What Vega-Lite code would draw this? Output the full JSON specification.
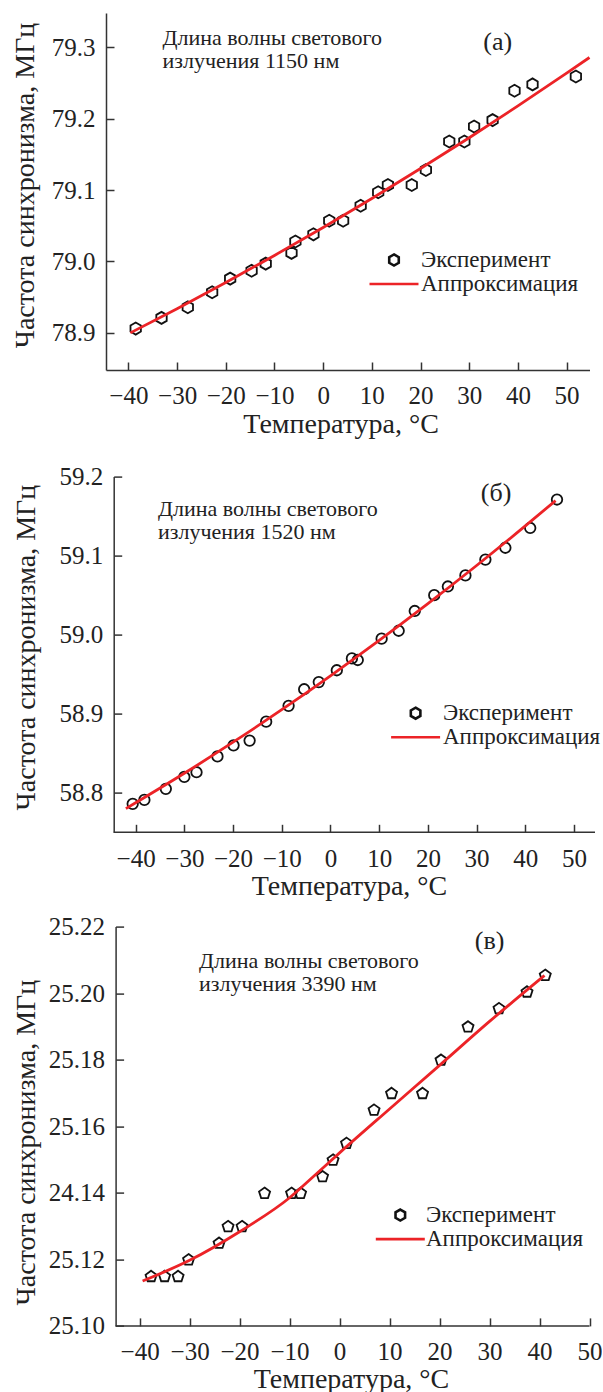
{
  "$schema": "https://vega.github.io/schema/vega-lite/v6.json",
  "padding": {"left": 10, "top": 13, "right": 0, "bottom": 0},
  "background": "white",
  "config": {
    "font": "Liberation Serif, Times New Roman, Times, DejaVu Serif, serif",
    "view": {"stroke": null},
    "axis": {
      "grid": false,
      "domainColor": "#333",
      "domainWidth": 1.5,
      "tickColor": "#333",
      "tickWidth": 1.5,
      "tickSize": -8,
      "labelFont": "Liberation Serif, Times New Roman, Times, DejaVu Serif, serif",
      "labelFontSize": 25,
      "labelColor": "#222",
      "labelOverlap": false,
      "labelFlush": false,
      "labelBound": false,
      "titleFont": "Liberation Serif, Times New Roman, Times, DejaVu Serif, serif",
      "titleFontSize": 28,
      "titleFontWeight": "normal",
      "titleColor": "#222"
    },
    "axisX": {"labelPadding": 21.8, "titleBaseline": "alphabetic", "titleY": 62, "titleAlign": "center"},
    "axisY": {"labelPadding": 19, "titleBaseline": "alphabetic", "titleAngle": -90, "titleAlign": "center"},
    "legend": {
      "title": null,
      "orient": "none",
      "symbolSize": 150,
      "rowPadding": 0,
      "padding": 0,
      "labelFont": "Liberation Serif, Times New Roman, Times, DejaVu Serif, serif",
      "labelFontSize": 23,
      "labelColor": "#222",
      "symbolStrokeWidth": 2.6
    },
    "text": {"font": "Liberation Serif, Times New Roman, Times, DejaVu Serif, serif", "color": "#222"}
  },
  "datasets": {
    "a": [
      {"t": -38.5, "f": 78.906, "kind": "Эксперимент"},
      {"t": -33.2, "f": 78.921, "kind": "Эксперимент"},
      {"t": -27.8, "f": 78.936, "kind": "Эксперимент"},
      {"t": -22.8, "f": 78.957, "kind": "Эксперимент"},
      {"t": -19.1, "f": 78.976, "kind": "Эксперимент"},
      {"t": -14.7, "f": 78.987, "kind": "Эксперимент"},
      {"t": -11.8, "f": 78.997, "kind": "Эксперимент"},
      {"t": -6.5, "f": 79.012, "kind": "Эксперимент"},
      {"t": -5.7, "f": 79.028, "kind": "Эксперимент"},
      {"t": -2.0, "f": 79.038, "kind": "Эксперимент"},
      {"t": 1.25, "f": 79.057, "kind": "Эксперимент"},
      {"t": 4.1, "f": 79.057, "kind": "Эксперимент"},
      {"t": 7.7, "f": 79.078, "kind": "Эксперимент"},
      {"t": 11.3, "f": 79.097, "kind": "Эксперимент"},
      {"t": 13.3, "f": 79.107, "kind": "Эксперимент"},
      {"t": 18.2, "f": 79.107, "kind": "Эксперимент"},
      {"t": 21.1, "f": 79.128, "kind": "Эксперимент"},
      {"t": 25.9, "f": 79.168, "kind": "Эксперимент"},
      {"t": 29.0, "f": 79.168, "kind": "Эксперимент"},
      {"t": 31.0, "f": 79.189, "kind": "Эксперимент"},
      {"t": 34.8, "f": 79.198, "kind": "Эксперимент"},
      {"t": 39.3, "f": 79.239, "kind": "Эксперимент"},
      {"t": 43.0, "f": 79.248, "kind": "Эксперимент"},
      {"t": 51.9, "f": 79.259, "kind": "Эксперимент"},
      {"t": -39.6, "f": 78.900, "kind": "Аппроксимация"},
      {"t": -30, "f": 78.9339, "kind": "Аппроксимация"},
      {"t": -20, "f": 78.9705, "kind": "Аппроксимация"},
      {"t": -10, "f": 79.0085, "kind": "Аппроксимация"},
      {"t": 0, "f": 79.0477, "kind": "Аппроксимация"},
      {"t": 10, "f": 79.0883, "kind": "Аппроксимация"},
      {"t": 20, "f": 79.1302, "kind": "Аппроксимация"},
      {"t": 30, "f": 79.1733, "kind": "Аппроксимация"},
      {"t": 40, "f": 79.2179, "kind": "Аппроксимация"},
      {"t": 50, "f": 79.2637, "kind": "Аппроксимация"},
      {"t": 54.7, "f": 79.2857, "kind": "Аппроксимация"}
    ],
    "b": [
      {"t": -40.6, "f": 58.786, "kind": "Эксперимент"},
      {"t": -38.2, "f": 58.791, "kind": "Эксперимент"},
      {"t": -33.8, "f": 58.805, "kind": "Эксперимент"},
      {"t": -30.0, "f": 58.820, "kind": "Эксперимент"},
      {"t": -27.5, "f": 58.826, "kind": "Эксперимент"},
      {"t": -23.2, "f": 58.846, "kind": "Эксперимент"},
      {"t": -19.9, "f": 58.860, "kind": "Эксперимент"},
      {"t": -16.6, "f": 58.866, "kind": "Эксперимент"},
      {"t": -13.2, "f": 58.890, "kind": "Эксперимент"},
      {"t": -8.6, "f": 58.910, "kind": "Эксперимент"},
      {"t": -5.4, "f": 58.931, "kind": "Эксперимент"},
      {"t": -2.4, "f": 58.940, "kind": "Эксперимент"},
      {"t": 1.3, "f": 58.955, "kind": "Эксперимент"},
      {"t": 4.4, "f": 58.970, "kind": "Эксперимент"},
      {"t": 5.6, "f": 58.968, "kind": "Эксперимент"},
      {"t": 10.5, "f": 58.995, "kind": "Эксперимент"},
      {"t": 14.0, "f": 59.005, "kind": "Эксперимент"},
      {"t": 17.3, "f": 59.030, "kind": "Эксперимент"},
      {"t": 21.3, "f": 59.050, "kind": "Эксперимент"},
      {"t": 24.1, "f": 59.061, "kind": "Эксперимент"},
      {"t": 27.7, "f": 59.075, "kind": "Эксперимент"},
      {"t": 31.8, "f": 59.095, "kind": "Эксперимент"},
      {"t": 35.9, "f": 59.110, "kind": "Эксперимент"},
      {"t": 41.0, "f": 59.135, "kind": "Эксперимент"},
      {"t": 46.5, "f": 59.171, "kind": "Эксперимент"},
      {"t": -42.0, "f": 58.780, "kind": "Аппроксимация"},
      {"t": -30, "f": 58.8247, "kind": "Аппроксимация"},
      {"t": -20, "f": 58.864, "kind": "Аппроксимация"},
      {"t": -10, "f": 58.9051, "kind": "Аппроксимация"},
      {"t": 0, "f": 58.948, "kind": "Аппроксимация"},
      {"t": 10, "f": 58.9927, "kind": "Аппроксимация"},
      {"t": 20, "f": 59.0392, "kind": "Аппроксимация"},
      {"t": 30, "f": 59.0875, "kind": "Аппроксимация"},
      {"t": 40, "f": 59.1376, "kind": "Аппроксимация"},
      {"t": 46.2, "f": 59.1696, "kind": "Аппроксимация"}
    ],
    "c": [
      {"t": 41.15, "f": 25.2055, "kind": "Эксперимент"},
      {"t": 37.5, "f": 25.2005, "kind": "Эксперимент"},
      {"t": 31.9, "f": 25.1955, "kind": "Эксперимент"},
      {"t": 25.7, "f": 25.190, "kind": "Эксперимент"},
      {"t": 20.3, "f": 25.180, "kind": "Эксперимент"},
      {"t": 16.6, "f": 25.170, "kind": "Эксперимент"},
      {"t": 10.4, "f": 25.170, "kind": "Эксперимент"},
      {"t": 6.9, "f": 25.165, "kind": "Эксперимент"},
      {"t": 1.4, "f": 25.155, "kind": "Эксперимент"},
      {"t": -1.3, "f": 25.150, "kind": "Эксперимент"},
      {"t": -3.4, "f": 25.145, "kind": "Эксперимент"},
      {"t": -7.8, "f": 25.140, "kind": "Эксперимент"},
      {"t": -9.6, "f": 25.140, "kind": "Эксперимент"},
      {"t": -15.0, "f": 25.140, "kind": "Эксперимент"},
      {"t": -19.5, "f": 25.130, "kind": "Эксперимент"},
      {"t": -22.3, "f": 25.130, "kind": "Эксперимент"},
      {"t": -24.1, "f": 25.125, "kind": "Эксперимент"},
      {"t": -30.2, "f": 25.120, "kind": "Эксперимент"},
      {"t": -32.3, "f": 25.115, "kind": "Эксперимент"},
      {"t": -35.0, "f": 25.115, "kind": "Эксперимент"},
      {"t": -37.7, "f": 25.115, "kind": "Эксперимент"},
      {"t": -39.4, "f": 25.1135, "kind": "Аппроксимация"},
      {"t": -30, "f": 25.1197, "kind": "Аппроксимация"},
      {"t": -20, "f": 25.1283, "kind": "Аппроксимация"},
      {"t": -10, "f": 25.1385, "kind": "Аппроксимация"},
      {"t": -5, "f": 25.1452, "kind": "Аппроксимация"},
      {"t": 0, "f": 25.152, "kind": "Аппроксимация"},
      {"t": 10, "f": 25.1652, "kind": "Аппроксимация"},
      {"t": 20, "f": 25.1783, "kind": "Аппроксимация"},
      {"t": 30, "f": 25.1915, "kind": "Аппроксимация"},
      {"t": 41, "f": 25.2053, "kind": "Аппроксимация"}
    ]
  },
  "concat": [
    {
      "width": 483.5,
      "height": 357,
      "data": {"name": "a"},
      "layer": [
        {
          "transform": [{"filter": "datum.kind === 'Эксперимент'"}],
          "mark": {"type": "point", "shape": "M0,-1L0.866,-0.5L0.866,0.5L0,1L-0.866,0.5L-0.866,-0.5Z", "size": 144, "strokeWidth": 1.8, "filled": false, "opacity": 1},
          "encoding": {
            "x": {"field": "t", "type": "quantitative", "scale": {"domain": [-44.6, 54.7], "nice": false, "zero": false},
              "axis": {"values": [-40, -30, -20, -10, 0, 10, 20, 30, 40, 50], "title": "Температура, °C", "titleX": 234.6}},
            "y": {"field": "f", "type": "quantitative", "scale": {"domain": [78.848, 79.348], "nice": false, "zero": false},
              "axis": {"values": [78.9, 79.0, 79.1, 79.2, 79.3], "format": ".1f", "title": "Частота синхронизма, МГц", "titleX": -73, "titleY": 172}},
            "color": {"field": "kind", "type": "nominal",
              "scale": {"domain": ["Эксперимент", "Аппроксимация"], "range": ["#111111", "#ec2327"]},
              "legend": {"legendX": 276.5, "legendY": 235.5, "labelOffset": 15.5}}
          }
        },
        {
          "transform": [{"filter": "false"}],
          "mark": {"type": "point", "filled": false},
          "encoding": {
            "x": {"field": "t", "type": "quantitative"},
            "y": {"field": "f", "type": "quantitative"},
            "shape": {"field": "kind", "type": "nominal",
              "scale": {"domain": ["Эксперимент", "Аппроксимация"], "range": ["M0,-0.9L0.78,-0.45L0.78,0.45L0,0.9L-0.78,0.45L-0.78,-0.45Z", "M-4,0L4,0"]},
              "legend": {"legendX": 276.5, "legendY": 235.5, "labelOffset": 15.5}}
          }
        },
        {
          "transform": [{"filter": "datum.kind === 'Аппроксимация'"}],
          "mark": {"type": "line", "strokeWidth": 2.8, "interpolate": "monotone"},
          "encoding": {
            "x": {"field": "t", "type": "quantitative"},
            "y": {"field": "f", "type": "quantitative"},
            "color": {"field": "kind", "type": "nominal"}
          }
        },
        {
          "data": {"values": [{}]},
          "mark": {"type": "text", "align": "left", "baseline": "alphabetic", "fontSize": 22, "lineHeight": 23},
          "encoding": {"x": {"datum": -33.0, "type": "quantitative"}, "y": {"datum": 79.3025, "type": "quantitative"}, "text": {"value": ["Длина волны светового", "излучения 1150 нм"]}}
        },
        {
          "data": {"values": [{}]},
          "mark": {"type": "text", "align": "center", "baseline": "alphabetic", "fontSize": 26},
          "encoding": {"x": {"datum": 35.85, "type": "quantitative"}, "y": {"datum": 79.2958, "type": "quantitative"}, "text": {"value": "(а)"}}
        }
      ]
    },
    {
      "concat": [
        {
          "width": 489,
          "height": 355.7,
          "data": {"name": "b"},
          "layer": [
            {
              "transform": [{"filter": "datum.kind === 'Эксперимент'"}],
              "mark": {"type": "point", "shape": "circle", "size": 110, "strokeWidth": 1.8, "filled": false, "opacity": 1},
              "encoding": {
                "x": {"field": "t", "type": "quantitative", "scale": {"domain": [-46.08, 54.3], "nice": false, "zero": false},
                  "axis": {"values": [-40, -30, -20, -10, 0, 10, 20, 30, 40, 50], "domain": false, "title": "Температура, °C", "titleX": 243}},
                "y": {"field": "f", "type": "quantitative", "scale": {"domain": [58.75, 59.2], "nice": false, "zero": false},
                  "axis": {"values": [58.8, 58.9, 59.0, 59.1, 59.2], "format": ".1f", "offset": -7.7, "title": "Частота синхронизма, МГц", "titleX": -79.7, "titleY": 170.5}},
                "color": {"field": "kind", "type": "nominal",
                  "scale": {"domain": ["Эксперимент", "Аппроксимация"], "range": ["#111111", "#ec2327"]},
                  "legend": {"legendX": 298.1, "legendY": 225.1, "labelOffset": 15.9}}
              }
            },
            {
              "transform": [{"filter": "false"}],
              "mark": {"type": "point", "filled": false},
              "encoding": {
                "x": {"field": "t", "type": "quantitative"},
                "y": {"field": "f", "type": "quantitative"},
                "shape": {"field": "kind", "type": "nominal",
                  "scale": {"domain": ["Эксперимент", "Аппроксимация"], "range": ["M0,-0.9L0.78,-0.45L0.78,0.45L0,0.9L-0.78,0.45L-0.78,-0.45Z", "M-4,0L4,0"]},
                  "legend": {"legendX": 298.1, "legendY": 225.1, "labelOffset": 15.9}}
              }
            },
            {
              "transform": [{"filter": "datum.kind === 'Аппроксимация'"}],
              "mark": {"type": "line", "strokeWidth": 2.8, "interpolate": "monotone"},
              "encoding": {
                "x": {"field": "t", "type": "quantitative"},
                "y": {"field": "f", "type": "quantitative"},
                "color": {"field": "kind", "type": "nominal"}
              }
            },
            {
              "data": {"values": [{}]},
              "mark": {"type": "rule", "color": "#333", "strokeWidth": 1.5},
              "encoding": {"x": {"datum": -44.5, "type": "quantitative"}, "x2": {"datum": 54.3}, "y": {"datum": 58.75, "type": "quantitative"}}
            },
            {
              "data": {"values": [{}]},
              "mark": {"type": "text", "align": "left", "baseline": "alphabetic", "fontSize": 22, "lineHeight": 23},
              "encoding": {"x": {"datum": -35.4, "type": "quantitative"}, "y": {"datum": 59.1506, "type": "quantitative"}, "text": {"value": ["Длина волны светового", "излучения 1520 нм"]}}
            },
            {
              "data": {"values": [{}]},
              "mark": {"type": "text", "align": "center", "baseline": "alphabetic", "fontSize": 26},
              "encoding": {"x": {"datum": 34.0, "type": "quantitative"}, "y": {"datum": 59.1696, "type": "quantitative"}, "text": {"value": "(б)"}}
            }
          ]
        },
        {
          "width": 483.5,
          "height": 399.3,
          "data": {"name": "c"},
          "layer": [
            {
              "transform": [{"filter": "datum.kind === 'Эксперимент'"}],
              "mark": {"type": "point", "shape": "M0,-0.905L0.951,-0.214L0.588,0.904L-0.588,0.904L-0.951,-0.214Z", "size": 135, "strokeWidth": 1.8, "filled": false, "opacity": 1},
              "encoding": {
                "x": {"field": "t", "type": "quantitative", "scale": {"domain": [-46.72, 50], "nice": false, "zero": false},
                  "axis": {"values": [-40, -30, -20, -10, 0, 10, 20, 30, 40, 50], "domain": false, "title": "Температура, °C", "titleX": 245}},
                "y": {"field": "f", "type": "quantitative", "scale": {"domain": [25.10, 25.22], "nice": false, "zero": false},
                  "axis": {"values": [25.10, 25.12, 25.14, 25.16, 25.18, 25.20, 25.22], "offset": -9.6, "labelExpr": "abs(datum.value - 25.14) < 0.001 ? '24.14' : format(datum.value, '.2f')", "title": "Частота синхронизма, МГц", "titleX": -81.6, "titleY": 215.5}},
                "color": {"field": "kind", "type": "nominal",
                  "scale": {"domain": ["Эксперимент", "Аппроксимация"], "range": ["#111111", "#ec2327"]},
                  "legend": {"legendX": 282.8, "legendY": 277, "labelOffset": 14.2}}
              }
            },
            {
              "transform": [{"filter": "false"}],
              "mark": {"type": "point", "filled": false},
              "encoding": {
                "x": {"field": "t", "type": "quantitative"},
                "y": {"field": "f", "type": "quantitative"},
                "shape": {"field": "kind", "type": "nominal",
                  "scale": {"domain": ["Эксперимент", "Аппроксимация"], "range": ["M0,-0.9L0.78,-0.45L0.78,0.45L0,0.9L-0.78,0.45L-0.78,-0.45Z", "M-4,0L4,0"]},
                  "legend": {"legendX": 282.8, "legendY": 277, "labelOffset": 14.2}}
              }
            },
            {
              "transform": [{"filter": "datum.kind === 'Аппроксимация'"}],
              "mark": {"type": "line", "strokeWidth": 2.8, "interpolate": "monotone"},
              "encoding": {
                "x": {"field": "t", "type": "quantitative"},
                "y": {"field": "f", "type": "quantitative"},
                "color": {"field": "kind", "type": "nominal"}
              }
            },
            {
              "data": {"values": [{}]},
              "mark": {"type": "rule", "color": "#333", "strokeWidth": 1.5},
              "encoding": {"x": {"datum": -44.8, "type": "quantitative"}, "x2": {"datum": 50}, "y": {"datum": 25.10, "type": "quantitative"}}
            },
            {
              "data": {"values": [{}]},
              "mark": {"type": "text", "align": "left", "baseline": "alphabetic", "fontSize": 22, "lineHeight": 23},
              "encoding": {"x": {"datum": -28.1, "type": "quantitative"}, "y": {"datum": 25.2077, "type": "quantitative"}, "text": {"value": ["Длина волны светового", "излучения 3390 нм"]}}
            },
            {
              "data": {"values": [{}]},
              "mark": {"type": "text", "align": "center", "baseline": "alphabetic", "fontSize": 26},
              "encoding": {"x": {"datum": 30.0, "type": "quantitative"}, "y": {"datum": 25.2134, "type": "quantitative"}, "text": {"value": "(в)"}}
            }
          ]
        }
      ],
      "columns": 1,
      "spacing": 14,
      "resolve": {"scale": {"x": "independent", "y": "independent", "color": "independent", "shape": "independent"}, "legend": {"color": "independent", "shape": "independent"}}
    }
  ],
  "columns": 1,
  "spacing": 26.6,
  "resolve": {"scale": {"x": "independent", "y": "independent", "color": "independent", "shape": "independent"}, "legend": {"color": "independent", "shape": "independent"}}
}
